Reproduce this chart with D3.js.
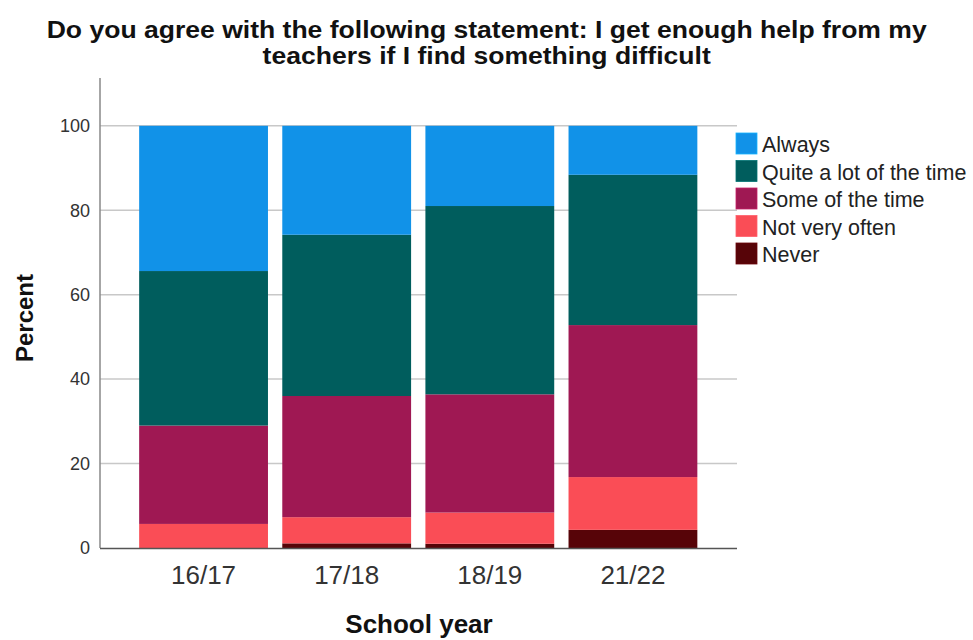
<!DOCTYPE html>
<html><head><meta charset="utf-8">
<script src="https://cdn.jsdelivr.net/npm/d3@7"></script>
<style>body{margin:0;background:#fff}svg{display:block;font-family:"Liberation Sans",Arial,sans-serif}</style>
</head><body><svg id="c" width="973" height="640"></svg>
<script>
const years = ["16/17","17/18","18/19","21/22"];
const categories = ["Never","Not very often","Some of the time","Quite a lot of the time","Always"];
const never = [0, 1.1, 1.0, 4.3];
const notVeryOften = [5.7, 6.2, 7.4, 12.5];
const someOfTheTime = [23.3, 28.7, 28.0, 36.0];
const quiteALot = [36.6, 38.2, 44.6, 35.6];
const always = [34.4, 25.8, 19.0, 11.6];
const colors = ["#570408","#fa4d56","#9f1853","#005d5d","#1192e8"];
const yTicks = [0,20,40,60,80,100];
const legendOrder = ["Always","Quite a lot of the time","Some of the time","Not very often","Never"];
const titleLines = ["Do you agree with the following statement: I get enough help from my","teachers if I find something difficult"];

const series = [never, notVeryOften, someOfTheTime, quiteALot, always];
const rows = years.map((y,i)=>{const r={year:y}; categories.forEach((c,k)=>r[c]=series[k][i]); return r;});
const stack = d3.stack().keys(categories)(rows);
const color = d3.scaleOrdinal(categories, colors);

const svg = d3.select("#c");
const x = d3.scaleBand(years,[132,704.5]).paddingInner(0.1).paddingOuter(0.05);
const y = d3.scaleLinear([0,100],[548,125.8]);

// gridlines
svg.append("g").selectAll("line").data(yTicks.filter(t=>t>0)).join("line")
  .attr("x1",100).attr("x2",737).attr("y1",d=>y(d)).attr("y2",d=>y(d))
  .attr("stroke","#c8c8c8").attr("stroke-width",1.5);

// bars
svg.append("g").selectAll("g").data(stack).join("g").attr("fill",d=>color(d.key))
  .selectAll("rect").data(d=>d).join("rect")
  .attr("x",d=>x(d.data.year)).attr("width",x.bandwidth())
  .attr("y",d=>y(d[1])).attr("height",d=>Math.max(0,y(d[0])-y(d[1])));

// axes
svg.append("line").attr("x1",100).attr("x2",100).attr("y1",78).attr("y2",548).attr("stroke","#888").attr("stroke-width",1.5);
svg.append("line").attr("x1",100).attr("x2",737).attr("y1",548.5).attr("y2",548.5).attr("stroke","#555").attr("stroke-width",1.5);

svg.append("g").selectAll("text").data(yTicks).join("text")
  .attr("x",90).attr("y",d=>y(d)).attr("dy","0.35em").attr("text-anchor","end")
  .attr("font-size",18).attr("fill","#333").text(d=>d);

svg.append("g").selectAll("text").data(years).join("text")
  .attr("x",d=>x(d)+x.bandwidth()/2).attr("y",584).attr("text-anchor","middle")
  .attr("font-size",26).attr("fill","#333").text(d=>d);

svg.append("text").attr("x",419).attr("y",633).attr("text-anchor","middle")
  .attr("font-size",26).attr("font-weight","bold").attr("fill","#111").text("School year");
svg.append("text").attr("transform","translate(33,318) rotate(-90)").attr("text-anchor","middle")
  .attr("font-size",24).attr("font-weight","bold").attr("fill","#111").text("Percent");

// title
const t1 = svg.append("text").attr("x",486.7).attr("y",38).attr("text-anchor","middle")
  .attr("font-size",24).attr("font-weight","bold").attr("fill","#111").text(titleLines[0]);
const t2 = svg.append("text").attr("x",486.7).attr("y",64).attr("text-anchor","middle")
  .attr("font-size",24).attr("font-weight","bold").attr("fill","#111").text(titleLines[1]);
const w1 = t1.node().getComputedTextLength();
const f = 880 / w1;
t1.attr("textLength",880).attr("lengthAdjust","spacingAndGlyphs");
t2.attr("textLength",t2.node().getComputedTextLength()*f).attr("lengthAdjust","spacingAndGlyphs");

// legend
const lg = svg.append("g").selectAll("g").data(legendOrder).join("g")
  .attr("transform",(d,i)=>`translate(736,${133+i*27.5})`);
lg.append("rect").attr("width",21).attr("height",21).attr("fill",d=>color(d))
  .attr("stroke",d=>d3.color(color(d)).brighter(0.6)).attr("stroke-width",0.8);
lg.append("text").attr("x",26).attr("y",19).attr("font-size",21.5).attr("fill","#222").text(d=>d);
</script></body></html>
